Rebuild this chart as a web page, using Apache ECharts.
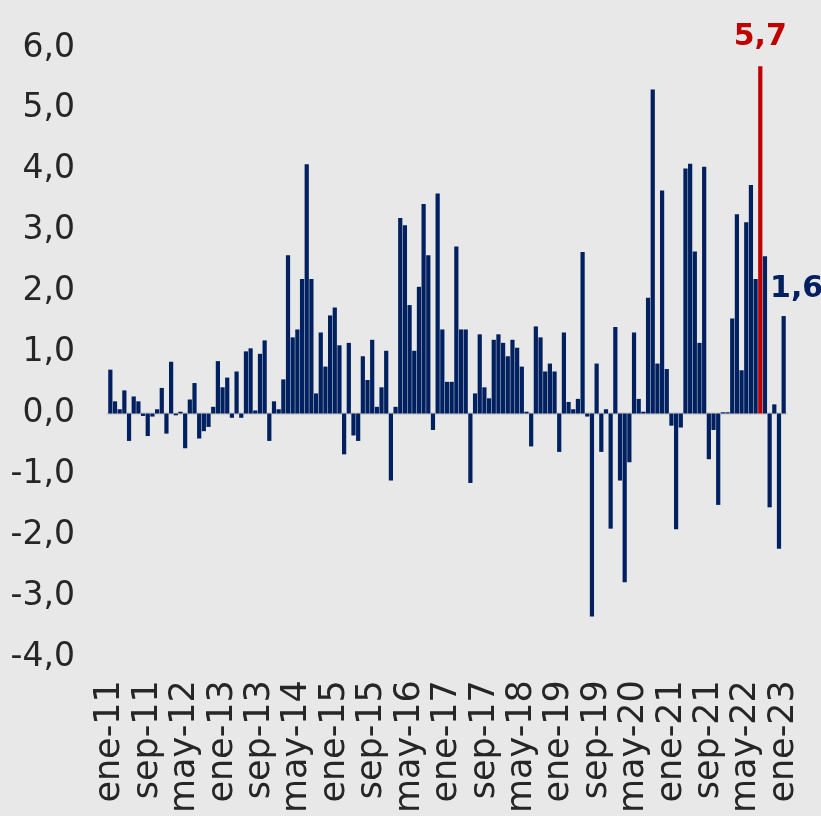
<!DOCTYPE html>
<html>
<head>
<meta charset="utf-8">
<script src="https://cdn.jsdelivr.net/npm/echarts@6/dist/echarts.min.js"></script>
<style>
  html, body { margin: 0; padding: 0; background: #e8e8e8; }
  #chart { width: 821px; height: 816px; }
</style>
</head>
<body>
<div id="chart"></div>
<script>
// meses en español, de ene-11 a ene-23
const meses = ["ene", "feb", "mar", "abr", "may", "jun", "jul", "ago", "sep", "oct", "nov", "dic"]
const anioInicio = 11
const anioFin = 23

// variación mensual (%)
const variacion = [
    0.72, 0.20, 0.07, 0.38, -0.45, 0.28, 0.20, -0.04, -0.37, -0.05, 0.07, 0.42,
    -0.33, 0.85, -0.03, 0.03, -0.57, 0.23, 0.50, -0.41, -0.29, -0.22, 0.11, 0.86,
    0.43, 0.59, -0.07, 0.69, -0.07, 1.02, 1.07, 0.05, 0.98, 1.20, -0.45, 0.20,
    0.07, 0.56, 2.60, 1.25, 1.38, 2.21, 4.09, 2.21, 0.33, 1.33, 0.77, 1.61,
    1.74, 1.12, -0.67, 1.16, -0.36, -0.45, 0.94, 0.55, 1.21, 0.11, 0.43, 1.03,
    -1.10, 0.11, 3.21, 3.09, 1.78, 1.03, 2.08, 3.44, 2.60, -0.27, 3.61, 1.38,
    0.52, 0.52, 2.74, 1.38, 1.38, -1.14, 0.33, 1.30, 0.43, 0.25, 1.21, 1.30,
    1.16, 0.94, 1.21, 1.08, 0.77, 0.03, -0.54, 1.43, 1.25, 0.69, 0.82, 0.69,
    -0.63, 1.33, 0.19, 0.07, 0.24, 2.65, -0.05, -3.33, 0.82, -0.63, 0.07, -1.89,
    1.42, -1.10, -2.77, -0.80, 1.33, 0.24, 0.03, 1.90, 5.32, 0.82, 3.66, 0.73,
    -0.20, -1.90, -0.23, 4.02, 4.10, 2.66, 1.16, 4.05, -0.75, -0.27, -1.50, 0.02,
    0.02, 1.56, 3.27, 0.71, 3.14, 3.75, 2.21, 5.70, 2.58, -1.54, 0.15, -2.22,
    1.60
]

// barras con etiqueta
const idxMaximo = 139   // ago-22, en rojo
const idxUltimo = 144   // ene-23

const categorias = []
for (let a = anioInicio; a <= anioFin; a++) {
    for (let m = 0; m < 12; m++) {
        if (categorias.length < variacion.length) categorias.push(meses[m] + "-" + a)
    }
}

function coma(v) {
    return v.toFixed(1).replace(".", ",")
}

var myChart = echarts.init(document.getElementById("chart"))
var option

const fuente = "DejaVu Sans"

const datos = variacion.map(function (v, i) {
    if (i === idxMaximo) {
        return {
            value: v,
            itemStyle: { color: "#c00000" },
            label: {
                show: true,
                position: "top",
                distance: 14,
                formatter: coma(v),
                color: "#c00000",
                fontWeight: "bold",
                fontSize: 30,
                fontFamily: fuente,
            },
        }
    }
    if (i === idxUltimo) {
        return {
            value: v,
            label: {
                show: true,
                position: "top",
                distance: 8,
                offset: [13, -4],
                formatter: coma(v),
                color: "#002060",
                fontWeight: "bold",
                fontSize: 30,
                fontFamily: fuente,
            },
        }
    }
    return v
})

option = {
    backgroundColor: "#e8e8e8",
    animation: false,
    grid: { left: 108, top: 48, width: 678, height: 610 },
    xAxis: [
        {
            // línea del cero con marcas cada 8 meses
            type: "category",
            data: categorias,
            position: "bottom",
            axisLine: { onZero: true, lineStyle: { color: "#d3d3d3", width: 3 } },
            axisTick: { interval: 7, length: 12, lineStyle: { color: "#d6d6d6", width: 3 } },
            axisLabel: { show: false },
        },
        {
            // etiquetas abajo
            type: "category",
            data: categorias,
            position: "bottom",
            axisLine: { show: false, onZero: false },
            axisTick: { show: false },
            axisLabel: {
                interval: 7,
                rotate: 90,
                margin: 23,
                color: "#262626",
                fontSize: 35,
                fontFamily: fuente,
            },
        },
    ],
    yAxis: {
        type: "value",
        min: -4,
        max: 6,
        interval: 1,
        axisLine: { show: false },
        axisTick: { show: false },
        splitLine: { show: false },
        axisLabel: {
            margin: 33,
            color: "#262626",
            fontSize: 33,
            fontFamily: fuente,
            formatter: coma,
        },
    },
    series: [
        {
            type: "bar",
            xAxisIndex: 0,
            data: datos,
            barCategoryGap: "10%",
            itemStyle: { color: "#002060" },
        },
    ],
}

myChart.setOption(option)
window.addEventListener("resize", myChart.resize)
</script>
</body>
</html>
